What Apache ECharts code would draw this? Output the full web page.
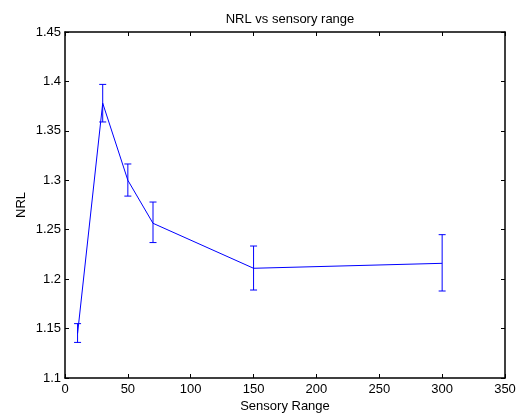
<!DOCTYPE html>
<html>
<head>
<meta charset="utf-8">
<script src="https://cdn.jsdelivr.net/npm/echarts@6/dist/echarts.min.js"></script>
<style>
  html, body { margin: 0; padding: 0; background: #fff; }
  #chart { width: 516px; height: 417px; }
</style>
</head>
<body>
<div id="chart"></div>
<script>
// data
var sensoryRange = [10, 30, 50, 70, 150, 300];
var nrlMean  = [1.145, 1.378, 1.300, 1.2565, 1.211, 1.216];
var nrlLow   = [1.136, 1.359, 1.284, 1.237, 1.189, 1.188];
var nrlHigh  = [1.155, 1.397, 1.3165, 1.278, 1.2335, 1.245];
var xTicks = [0, 50, 100, 150, 200, 250, 300, 350];
var yTicks = [1.1, 1.15, 1.2, 1.25, 1.3, 1.35, 1.4, 1.45];

var lineData = sensoryRange.map(function (x, i) { return [x, nrlMean[i]]; });
var errData = sensoryRange.map(function (x, i) { return [x, nrlLow[i], nrlHigh[i]]; });

var font = 'Liberation Sans, Arial, Helvetica, sans-serif';
var fs = 13;
var blue = '#0000ff';

function boxAxis(pos, isX, show) {
  var ticks = isX ? xTicks : yTicks;
  return {
    type: 'value',
    position: pos,
    min: ticks[0],
    max: ticks[ticks.length - 1],
    interval: isX ? 50 : 0.05,
    splitLine: { show: false },
    axisLine: { show: true, onZero: false, lineStyle: { color: '#000', width: 1.5 } },
    axisTick: { show: true, inside: true, length: 4, lineStyle: { color: '#000', width: 1 } },
    axisLabel: {
      show: show,
      color: '#000',
      fontFamily: font,
      fontSize: fs,
      margin: isX ? 5 : 4,
      formatter: function (v) { return String(Math.round(v * 100) / 100); }
    }
  };
}

var xBottom = boxAxis('bottom', true, true);
xBottom.name = 'Sensory Range';
xBottom.nameLocation = 'middle';
xBottom.nameGap = 22;
xBottom.nameMoveOverlap = false;
xBottom.nameTextStyle = { color: '#000', fontFamily: font, fontSize: fs };
var xTop = boxAxis('top', true, false);

var yLeft = boxAxis('left', false, true);
yLeft.name = 'NRL';
yLeft.nameLocation = 'middle';
yLeft.nameGap = 37;
yLeft.nameMoveOverlap = false;
yLeft.nameTextStyle = { color: '#000', fontFamily: font, fontSize: fs };
var yRight = boxAxis('right', false, false);

var chart = echarts.init(document.getElementById('chart'), null, { renderer: 'canvas' });
chart.setOption({
  animation: false,
  backgroundColor: '#fff',
  title: {
    text: 'NRL vs sensory range',
    left: 285,
    textAlign: 'center',
    top: 8,
    textStyle: { color: '#000', fontFamily: font, fontSize: fs, fontWeight: 'normal' }
  },
  grid: { left: 65, right: 11, top: 32, bottom: 39, outerBoundsMode: 'none', containLabel: false },
  xAxis: [xBottom, xTop],
  yAxis: [yLeft, yRight],
  series: [
    {
      type: 'line',
      data: lineData,
      xAxisIndex: 0,
      yAxisIndex: 0,
      symbol: 'none',
      lineStyle: { color: blue, width: 1 }
    },
    {
      type: 'custom',
      data: errData,
      xAxisIndex: 0,
      yAxisIndex: 0,
      renderItem: function (params, api) {
        var lo = api.coord([api.value(0), api.value(1)]);
        var hi = api.coord([api.value(0), api.value(2)]);
        var w = 3.5;
        var style = { stroke: blue, lineWidth: 1, fill: null };
        return {
          type: 'group',
          children: [
            { type: 'line', shape: { x1: hi[0], y1: hi[1], x2: lo[0], y2: lo[1] }, style: style },
            { type: 'line', shape: { x1: hi[0] - w, y1: hi[1], x2: hi[0] + w, y2: hi[1] }, style: style },
            { type: 'line', shape: { x1: lo[0] - w, y1: lo[1], x2: lo[0] + w, y2: lo[1] }, style: style }
          ]
        };
      }
    }
  ]
});
</script>
</body>
</html>
